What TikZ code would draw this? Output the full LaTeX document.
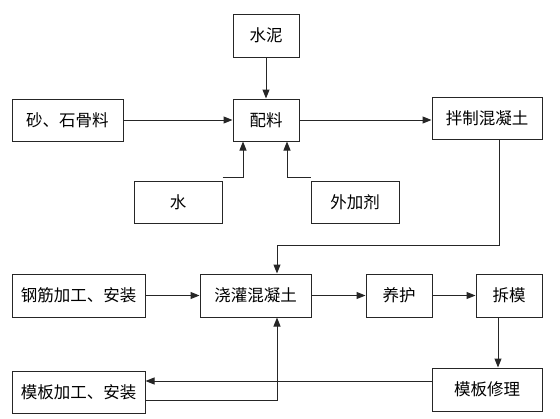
\documentclass[tikz,border=0pt]{standalone}
\usepackage{fontspec}
\setmainfont{Noto Sans CJK SC}
\usetikzlibrary{arrows.meta}
\begin{document}
\begin{tikzpicture}[x=1pt,y=-1pt,
  box/.style={draw=black!85,line width=1pt,inner sep=0pt,minimum height=42pt,font=\fontsize{16.5}{17}\selectfont},
  conn/.style={draw=black!85,line width=1pt,-{Triangle[length=9pt,width=7pt]}},
  plain/.style={draw=black!85,line width=1pt}]
\useasboundingbox (0,0) rectangle (560,418);
\node[box,minimum width=66pt,minimum height=43pt] (shuini) at (266,35.5) {水泥};
\node[box,minimum width=66pt] (peiliao) at (266,120) {配料};
\node[box,minimum width=111pt] (sha) at (67.5,120) {砂、石骨料};
\node[box,minimum width=88pt] (shui) at (178,202) {水};
\node[box,minimum width=88pt] (wai) at (355,202) {外加剂};
\node[box,minimum width=110pt] (banzhi) at (487,118) {拌制混凝土};
\node[box,minimum width=133pt,minimum height=43pt] (gangjin) at (78.5,295.5) {钢筋加工、安装};
\node[box,minimum width=111pt,minimum height=43pt] (jiaoguan) at (255.5,295.5) {浇灌混凝土};
\node[box,minimum width=66pt,minimum height=43pt] (yanghu) at (399,295.5) {养护};
\node[box,minimum width=66pt,minimum height=43pt] (chaimo) at (509,295.5) {拆模};
\node[box,minimum width=133pt] (mobanjg) at (78.5,392) {模板加工、安装};
\node[box,minimum width=110pt,minimum height=43pt] (xiuli) at (487,389.5) {模板修理};
\draw[conn] (shuini.south) -- (peiliao.north);
\draw[conn] (sha.east) -- (peiliao.west);
\draw[conn] ([yshift=3pt]shui.north east) -| ([xshift=-23pt]peiliao.south);
\draw[conn] ([yshift=3pt]wai.north west) -| ([xshift=21pt]peiliao.south);
\draw[conn] (peiliao.east) -- (peiliao.east -| banzhi.west);
\coordinate (bend) at (499,245);
\draw[conn] ([xshift=12pt]banzhi.south) -- (bend) -| ([xshift=21.5pt]jiaoguan.north);
\draw[conn] (gangjin.east) -- (jiaoguan.west);
\draw[conn] ([yshift=-8pt]mobanjg.east) -| ([xshift=21.5pt]jiaoguan.south);
\draw[conn] ([yshift=8.5pt]xiuli.west) -- ([yshift=8.5pt]xiuli.west -| mobanjg.east);
\draw[conn] (jiaoguan.east) -- (yanghu.west);
\draw[conn] (yanghu.east) -- (chaimo.west);
\draw[conn] ([xshift=-11pt]chaimo.south) -- ([xshift=-11pt]chaimo.south |- xiuli.north);
\end{tikzpicture}
\end{document}
